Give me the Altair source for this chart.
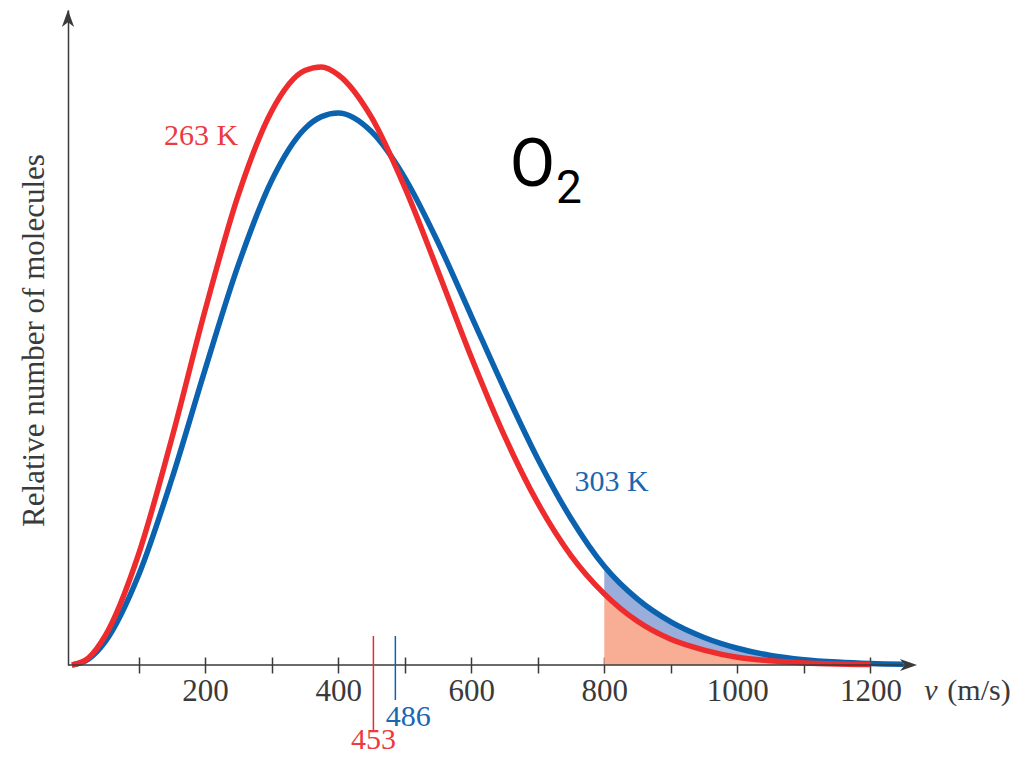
import altair as alt
import pandas as pd

# speeds (m/s) and relative number of molecules
speed = [0, 25, 50, 100, 150, 200, 250, 300, 350, 375, 400, 450, 500, 550, 600,
         650, 700, 750, 800, 850, 900, 950, 1000, 1050, 1100, 1150, 1200, 1250]
red_263K = [0, 0.012, 0.049, 0.185, 0.379, 0.593, 0.786, 0.926, 0.994, 1.000, 0.987,
            0.916, 0.799, 0.659, 0.515, 0.383, 0.271, 0.183, 0.119, 0.073, 0.043,
            0.025, 0.013, 0.007, 0.0035, 0.0017, 0.0008, 0.0003]
blue_303K = [0, 0.010, 0.039, 0.150, 0.311, 0.494, 0.669, 0.810, 0.897, 0.917, 0.923,
             0.892, 0.815, 0.707, 0.584, 0.461, 0.345, 0.245, 0.165, 0.110, 0.072,
             0.046, 0.028, 0.016, 0.009, 0.005, 0.0025, 0.0012]
tick_values = [100, 200, 300, 400, 500, 600, 700, 800, 900, 1000, 1100, 1200]
mean_red, mean_blue = 453, 486
shade_from = 800

RED = "#ee2c2e"
BLUE = "#0b63b0"
RED_TXT = "#ec3a40"
BLUE_TXT = "#1a66b0"
RED_FILL = "#f8ae94"
BLUE_FILL = "#9aaedb"
AXIS = "#3a3a3a"
SERIF = "Liberation Serif"

df = pd.DataFrame({"v": speed, "red": red_263K, "blue": blue_303K})
one = pd.DataFrame({"k": [0]})  # single row for annotations

XMIN, XMAX = -6, 1270
YMAX = 1.0953

x_enc = alt.X("v:Q", scale=alt.Scale(domain=[XMIN, XMAX], nice=False, zero=False),
              axis=alt.Axis(values=tick_values, format="d",
                            labelExpr="datum.value % 200 == 0 ? datum.label : ''",
                            domain=False, grid=False, ticks=True, tickSize=16,
                            tickWidth=1.5, tickColor=AXIS, offset=-8,
                            labelFont=SERIF, labelFontSize=31, labelColor=AXIS,
                            labelPadding=3, title=None))
y_axis = alt.Axis(domain=True, domainColor=AXIS, domainWidth=1.5, ticks=False,
                  labels=False, grid=False, title="Relative number of molecules",
                  titleFont=SERIF, titleFontSize=31, titleFontWeight="normal",
                  titleColor=AXIS, titleAngle=270, titleX=-25, titleY=330,
                  titleAlign="center", titleBaseline="alphabetic")
y_scale = alt.Scale(domain=[0, YMAX], nice=False)

base = alt.Chart(df)

area_red = base.transform_filter(alt.datum.v >= shade_from).mark_area(
    color=RED_FILL, interpolate="monotone", opacity=1).encode(
    x=x_enc, y=alt.Y("red:Q", scale=y_scale, axis=y_axis), y2=alt.datum(0))
area_blue = base.transform_filter(alt.datum.v >= shade_from).mark_area(
    color=BLUE_FILL, interpolate="monotone", opacity=1).encode(
    x=x_enc, y=alt.Y("blue:Q", scale=y_scale, axis=y_axis), y2="red:Q")
line_blue = base.mark_line(color=BLUE, strokeWidth=5.5, interpolate="monotone").encode(
    x=x_enc, y=alt.Y("blue:Q", scale=y_scale, axis=y_axis))
line_red = base.transform_filter(alt.datum.v <= 1200).mark_line(
    color=RED, strokeWidth=5.5, interpolate="monotone").encode(
    x=x_enc, y=alt.Y("red:Q", scale=y_scale, axis=y_axis))

x_axis_line = alt.Chart(one).mark_rule(color=AXIS, strokeWidth=1.5).encode(
    x=alt.datum(XMIN), x2=alt.datum(XMAX - 10), y=alt.datum(0))

arrow_right = alt.Chart(one).mark_point(
    shape="M0,0 L-1,-0.36 L-0.72,0 L-1,0.36 Z", size=1156, filled=True,
    fill=AXIS, opacity=1, strokeWidth=0).encode(x=alt.datum(XMAX), y=alt.datum(0))
arrow_up = alt.Chart(one).mark_point(
    shape="M0,0 L-0.36,1 L0,0.72 L0.36,1 Z", size=1156, filled=True,
    fill=AXIS, opacity=1, strokeWidth=0).encode(x=alt.datum(XMIN), y=alt.datum(YMAX))

rule_red = alt.Chart(one).mark_rule(color=RED, strokeWidth=1.5).encode(
    x=alt.datum(mean_red), y=alt.value(626), y2=alt.value(722))
rule_blue = alt.Chart(one).mark_rule(color=BLUE, strokeWidth=1.5).encode(
    x=alt.datum(mean_blue), y=alt.value(626), y2=alt.value(690))


def label(text, x, y, fill, font=SERIF, size=30, dx=0, style="normal",
          px_x=False, px_y=False):
    enc = {"x": alt.value(x) if px_x else alt.datum(x),
           "y": alt.value(y) if px_y else alt.datum(y)}
    return alt.Chart(one).mark_text(
        text=text, font=font, fontSize=size, fill=fill, strokeWidth=0,
        fontStyle=style, fontWeight="normal", align="center", baseline="middle",
        dx=dx).encode(**enc)


txt_453 = label(str(mean_red), mean_red, 730, RED_TXT, px_y=True)
txt_486 = label(str(mean_blue), mean_blue, 707, BLUE_TXT, dx=13, px_y=True)
lbl_263 = label("263 K", 194, 0.885, RED_TXT)
lbl_303 = label("303 K", 811, 0.306, BLUE_TXT)
lbl_O = label("O", 692, 0.834, "black", font="Roboto", size=66)
lbl_2 = label("2", 747, 0.796, "black", font="Roboto", size=46)
title_v = label("v", 863, 681, AXIS, style="italic", px_x=True, px_y=True)
title_unit = label("(m/s)", 911, 681, AXIS, px_x=True, px_y=True)

chart = alt.layer(
    area_red, area_blue, line_blue, line_red, x_axis_line, arrow_right, arrow_up,
    rule_red, rule_blue, txt_453, txt_486, lbl_263, lbl_303, lbl_O, lbl_2,
    title_v, title_unit
).properties(
    width=849, height=655,
    padding={"left": 60, "top": 2, "right": 100, "bottom": 90},
    autosize=alt.AutoSizeParams(type="none"),
    background="white"
).configure_view(stroke=None)

chart.save("out.html", embed_options={"renderer": "svg", "actions": False})
